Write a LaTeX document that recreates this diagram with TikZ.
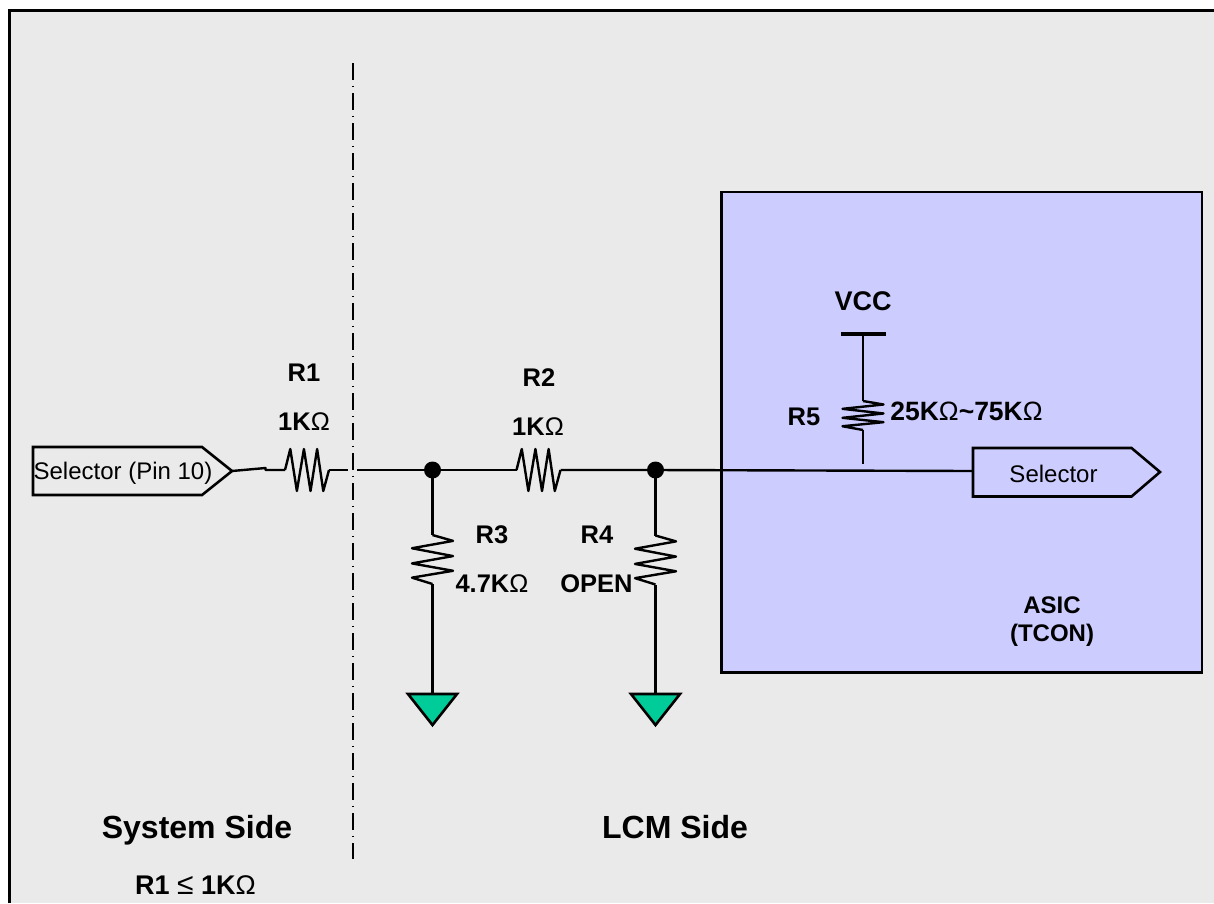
\documentclass[tikz,border=0pt]{standalone}
\usepackage{fontspec}
\setmainfont{Liberation Sans}
\definecolor{panelgray}{HTML}{EAEAEA}
\definecolor{asicblue}{HTML}{CCCCFF}
\definecolor{gndgreen}{HTML}{00CC99}
\begin{document}
\begin{tikzpicture}[x=1pt, y=-1pt,
    wire style/.style={draw=black, line width=2.4pt, line join=round},
    port style/.style={draw=black, line width=2.6pt},
    label style/.style={font=\fontsize{25.5}{25.5}\selectfont\bfseries, inner sep=0pt},
    side style/.style={font=\fontsize{32}{32}\selectfont\bfseries, inner sep=0pt},
    pin style/.style={font=\fontsize{24}{24}\selectfont, inner sep=0pt},
    pics/zigzag/.style={code={
        \draw[wire style] (0,0) -- (.12,-1) -- (.27,1) -- (.43,-1) -- (.58,1)
            -- (.73,-1) -- (.87,1) -- (1,0);}},
    pics/ground/.style={code={
        \draw[port style, fill=gndgreen] (-24.5,0) -- (24.5,0) -- (0,31) -- cycle;}}]
    \useasboundingbox (0,0) rectangle (1214,903);

    \newcommand{\ohm}{{\mdseries\char"03A9}}

    \fill[panelgray] (8,10) rectangle (1214,903);
    \draw[black, line width=3pt] (9,903) -- (9,10) -- (1214,10);
    \draw[black, line width=1.8pt, dash pattern=on 16.5pt off 6pt on 1.5pt off 6pt] (353,63) -- (353,859);

    \draw[port style, fill=asicblue] (721.5,192) rectangle (1202,672.5);

    \coordinate (leftTip) at (232,471);
    \coordinate (rightPort) at (973,471);
    \coordinate (bend) at (265.5,468);
    \coordinate (r1a) at (285,470);
    \coordinate (r1b) at (329,470);
    \coordinate (cutL) at (348,470);
    \coordinate (cutR) at (357,470);
    \coordinate (n1) at (432.5,470);
    \coordinate (r2a) at (516.5,470);
    \coordinate (r2b) at (560.5,470);
    \coordinate (n2) at (655.5,470);
    \coordinate (r3a) at (432.5,535);
    \coordinate (r3b) at (432.5,584);
    \coordinate (r4a) at (655.5,535.5);
    \coordinate (r4b) at (655.5,584.5);
    \coordinate (g1) at (432.5,694);
    \coordinate (g2) at (655.5,694);
    \coordinate (vcc) at (863,333.5);
    \coordinate (r5a) at (863,401);
    \coordinate (r5b) at (863,430);
    \coordinate (r5end) at (863,464);

    % ports
    \draw[port style] (33,447) -- (202,447) -- (leftTip) -- (202,495) -- (33,495) -- cycle;
    \draw[port style] (rightPort |- 0,448) -- (1131.5,448) -- (1160,472) -- (1131.5,496.5)
        -- (rightPort |- 0,496.5) -- cycle;

    % wires
    \draw[wire style] (leftTip) -- (bend) -- (bend |- r1a) -- (r1a);
    \draw[wire style] (r1b) -- (cutL);
    \draw[wire style] (cutR) -- (n1) -- (r2a);
    \draw[wire style] (r2b) -- (n2) -- (rightPort);
    \draw[wire style] (n1) -- (r3a);
    \draw[wire style] (r3b) -- (g1);
    \draw[wire style] (n2) -- (r4a);
    \draw[wire style] (r4b) -- (g2);
    \draw[wire style] (vcc) -- (r5a);
    \draw[wire style] (r5b) -- (r5end);
    \draw[black, line width=4pt] (vcc) ++(-22.5,0) -- ++(45,0);

    \pic[xscale=44, yscale=21] at (r1a) {zigzag};
    \pic[xscale=44, yscale=21] at (r2a) {zigzag};
    \pic[rotate=-90, xscale=49, yscale=20.5] at (r3a) {zigzag};
    \pic[rotate=-90, xscale=49, yscale=20.5] at (r4a) {zigzag};
    \pic[rotate=-90, xscale=29, yscale=20.5] at (r5a) {zigzag};

    \pic at (g1) {ground};
    \pic at (g2) {ground};

    \fill[black] (n1) circle (8.5);
    \fill[black] (n2) circle (8.5);

    % labels
    \node[pin style] (pinL) at (123,473) {Selector (Pin 10)};
    \node[pin style] (pinR) at (1053.5,474) {Selector};
    \node[label style] (r1name) at (304,373) {R1};
    \node[label style] (r1val) at (304,422) {1K\ohm};
    \node[label style] (r2name) at (539,378) {R2};
    \node[label style] (r2val) at (538,427) {1K\ohm};
    \node[label style] (r3name) at (492,535) {R3};
    \node[label style] (r3val) at (492,584) {4.7K\ohm};
    \node[label style] (r4name) at (597,535) {R4};
    \node[label style] (r4val) at (596.5,584) {OPEN};
    \node[label style] (r5name) at (804,417) {R5};
    \node[label style, font=\fontsize{26.5}{26.5}\selectfont\bfseries] (r5val) at (966.5,411) {25K\ohm\char"007E 75K\ohm};
    \node[label style, font=\fontsize{27}{27}\selectfont\bfseries] (vccname) at (863,301) {VCC};
    \node[label style, font=\fontsize{24}{24}\selectfont\bfseries] (asic) at (1052,605) {ASIC};
    \node[label style, font=\fontsize{24}{24}\selectfont\bfseries] (tcon) at (1052,635) {(TCON)};
    \node[side style] (sysside) at (197,830) {System Side};
    \node[side style] (lcmside) at (675,827) {LCM Side};
    \node[label style, font=\fontsize{27}{27}\selectfont\bfseries] (r1note) at (195.5,885) {R1 {\mdseries\fontsize{30}{30}\selectfont\char"2264} 1K\ohm};
\end{tikzpicture}
\end{document}
